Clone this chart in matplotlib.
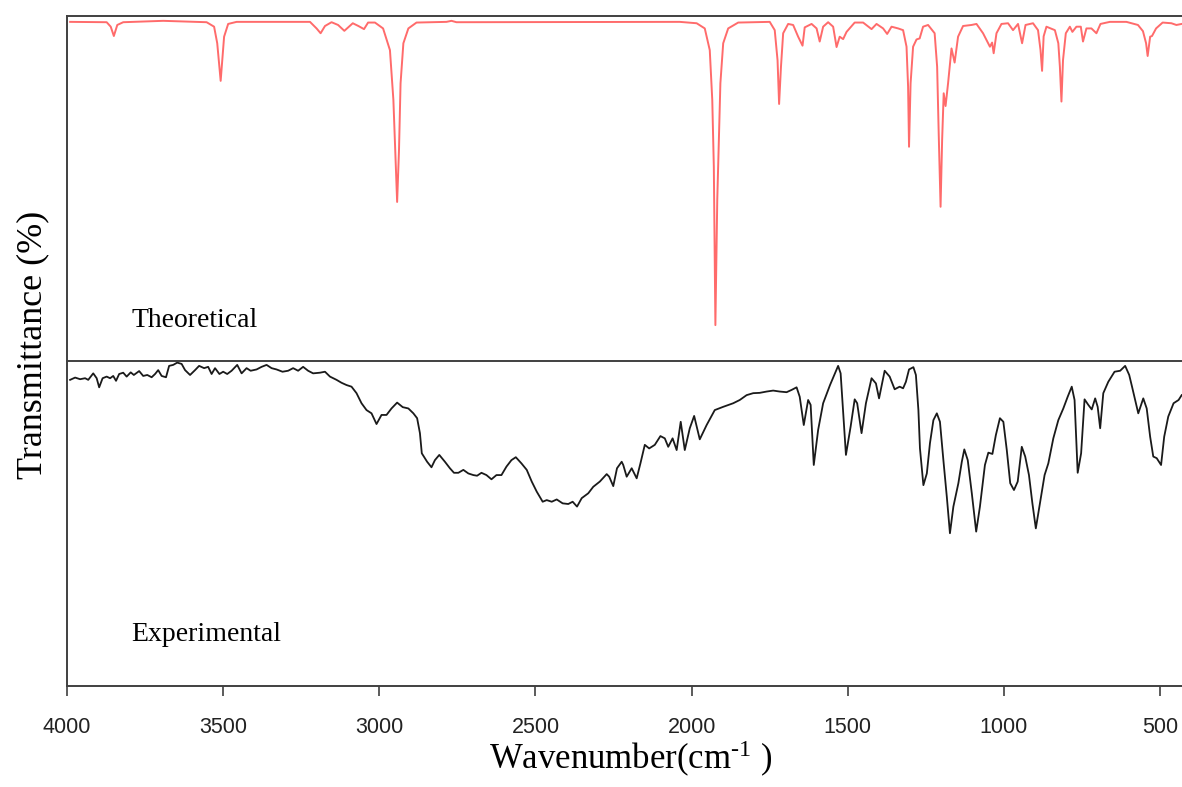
import matplotlib
matplotlib.use("Agg")
import matplotlib.pyplot as plt

plt.rcParams['mathtext.fontset'] = 'custom'
plt.rcParams['mathtext.rm'] = 'Liberation Serif'
plt.rcParams['mathtext.it'] = 'Liberation Serif:italic'

# theoretical (calculated) spectrum
theo_wn = [3990, 3873, 3860, 3850, 3839, 3820, 3692, 3553, 3529, 3519, 3512, 3508, 3503, 3497,
           3484, 3457, 3222, 3201, 3188, 3174, 3153, 3132, 3112, 3085, 3067, 3049, 3036, 3014,
           2988, 2966, 2955, 2947, 2943, 2937, 2932, 2923, 2907, 2881, 2785, 2769, 2753, 2038,
           1984, 1958, 1942, 1934, 1929, 1924, 1918, 1913, 1908, 1899, 1883, 1851, 1750, 1734,
           1725, 1720, 1714, 1707, 1691, 1675, 1659, 1645, 1638, 1616, 1600, 1590, 1579, 1563,
           1547, 1536, 1526, 1515, 1504, 1478, 1451, 1424, 1408, 1387, 1374, 1360, 1339, 1323,
           1312, 1307, 1304, 1299, 1291, 1280, 1270, 1259, 1243, 1222, 1214, 1209, 1203, 1198,
           1193, 1187, 1179, 1168, 1158, 1147, 1131, 1104, 1088, 1067, 1045, 1038, 1033, 1024,
           1008, 987, 971, 955, 942, 931, 907, 891, 883, 878, 873, 864, 837, 826, 821, 816,
           811, 802, 789, 781, 768, 754, 747, 736, 720, 704, 691, 661, 608, 571, 555, 545,
           540, 532, 526, 513, 492, 464, 448, 431]
theo_t = [98.3, 98.2, 96.9, 94.2, 97.4, 98.2, 98.6, 98.2, 96.9, 92.1, 85.3, 81.2, 87.2, 94.0,
          97.7, 98.3, 98.3, 96.4, 95.0, 97.1, 98.2, 97.4, 95.7, 97.9, 97.1, 96.2, 98.1, 98.1,
          96.4, 90.1, 75.7, 56.3, 46.1, 61.2, 80.5, 92.1, 96.4, 98.1, 98.3, 98.6, 98.2, 98.3,
          97.9, 96.4, 90.1, 75.7, 56.3, 10.4, 46.7, 64.1, 80.5, 92.1, 96.4, 98.1, 98.3, 95.9,
          87.2, 74.5, 85.3, 95.0, 97.7, 97.4, 94.0, 91.4, 96.7, 97.7, 96.4, 92.6, 96.9, 98.2,
          96.9, 91.0, 94.0, 93.3, 95.4, 98.1, 98.1, 96.2, 97.7, 96.4, 94.8, 96.9, 96.4, 95.9,
          91.1, 79.5, 62.1, 80.5, 91.1, 93.2, 93.5, 96.9, 97.4, 95.0, 85.3, 66.0, 44.7, 64.1,
          77.6, 73.9, 80.5, 90.6, 86.5, 94.0, 97.1, 97.4, 97.7, 95.0, 91.1, 92.3, 89.2, 95.0,
          97.7, 97.9, 95.9, 97.7, 92.1, 97.4, 97.9, 95.9, 90.1, 84.1, 94.1, 96.9, 95.9, 92.1, 85.3, 75.2,
          87.2, 95.0, 96.9, 95.4, 96.9, 96.9, 92.6, 96.4, 96.4, 95.0, 97.7, 98.3, 98.3, 97.4, 95.6, 92.1,
          88.4, 94.0, 94.2, 96.4, 98.1, 97.9, 97.4, 97.7]

# experimental spectrum
exp_wn = [3990, 3974, 3958, 3942, 3932, 3916, 3905, 3897, 3886, 3873, 3862, 3852, 3843, 3833,
          3820, 3809, 3796, 3786, 3769, 3756, 3743, 3729, 3718, 3708, 3697, 3683, 3673, 3660,
          3647, 3633, 3622, 3606, 3590, 3577, 3561, 3548, 3537, 3526, 3512, 3500, 3487, 3473,
          3455, 3441, 3425, 3412, 3393, 3377, 3361, 3345, 3329, 3310, 3292, 3276, 3260, 3244,
          3228, 3212, 3190, 3174, 3158, 3137, 3121, 3105,
          3089, 3073, 3057, 3041, 3025, 3009, 2993, 2977, 2961, 2943, 2925, 2907, 2891, 2879,
          2870, 2864, 2847, 2833, 2822, 2808, 2790, 2774, 2761, 2747, 2731, 2715, 2699, 2687,
          2673, 2657, 2641, 2625, 2609, 2593, 2577, 2563, 2545, 2528, 2512, 2496, 2477, 2464,
          2448, 2432, 2413, 2395, 2381, 2367, 2352, 2331, 2315, 2294, 2272, 2264, 2251, 2239,
          2224, 2219, 2208, 2192, 2176, 2164, 2150, 2136, 2118, 2100, 2086, 2075, 2061, 2048,
          2035, 2022, 2006, 1992, 1974, 1952, 1926, 1899, 1867, 1846, 1824, 1803, 1782, 1760,
          1739, 1718, 1696, 1680, 1664, 1654, 1641, 1627, 1619, 1609, 1595, 1579, 1557, 1531,
          1523, 1506, 1491, 1478, 1470, 1456, 1442, 1424, 1410, 1400, 1382, 1366, 1350, 1334,
          1323, 1314, 1304, 1290, 1282, 1274, 1269, 1258, 1247, 1237, 1226, 1215, 1205, 1194,
          1183, 1173, 1162, 1146, 1135, 1127, 1116, 1103, 1089, 1077, 1061, 1050, 1037, 1026,
          1013, 1002, 991, 980, 968, 956, 943, 932, 920, 909, 898, 885, 870, 858, 842, 826,
          810, 796, 783, 774, 764, 753, 742, 730, 719, 708, 700, 692, 682, 666, 646, 628,
          612, 599, 590, 570, 554, 543, 532, 522, 511, 497, 487, 474, 457, 441, 431]
exp_t = [94.2, 94.9, 94.4, 94.7, 94.2, 96.2, 94.7, 91.9, 94.7, 95.2, 94.7, 95.4, 93.9, 96.0,
         96.4, 95.2, 96.5, 95.7, 96.9, 95.4, 95.7, 95.0, 96.0, 97.2, 95.4, 95.0, 98.5, 98.8,
         99.5, 99.1, 97.2, 95.7, 97.2, 98.5, 97.8, 98.2, 96.0, 97.8, 96.0, 96.7, 96.0, 97.0,
         98.8, 96.2, 97.8, 97.0, 97.4, 98.2, 98.8, 97.8, 97.4, 96.7, 97.0, 97.8, 97.0, 98.2,
         97.0, 96.2, 96.4, 96.7, 95.2, 94.2, 93.3, 92.6,
         92.1, 90.1, 87.0, 84.9, 83.9, 80.6, 83.4, 83.4, 85.4, 87.2, 85.8, 85.4, 83.9, 82.4,
         77.8, 71.6, 69.0, 67.3, 69.5, 71.1, 69.0, 67.0, 65.6, 65.6, 66.5, 65.4, 64.9, 64.7,
         65.6, 64.9, 63.6, 64.9, 64.9, 67.5, 69.5, 70.4, 68.5, 66.5, 62.9, 59.8, 56.7, 57.2,
         56.7, 57.4, 56.2, 56.0, 56.7, 55.2, 57.8, 59.3, 61.3, 62.9, 65.2, 64.4, 61.5, 67.0,
         69.0, 68.0, 64.4, 67.0, 63.9, 68.5, 74.2, 73.1, 74.2, 76.9, 76.2, 73.6, 76.2, 72.6,
         81.3, 72.6, 79.3, 83.1, 75.9, 80.3, 84.9, 85.9, 87.0, 88.0, 89.5, 90.1, 90.2, 90.6,
         90.9, 90.6, 90.4, 91.1, 91.9, 89.0, 80.3, 88.0, 86.5, 68.0, 78.8, 87.0, 92.6, 98.5,
         96.2, 71.1, 79.8, 88.2, 87.0, 77.8, 87.0, 94.7, 93.1, 88.5, 97.0, 95.2, 91.3, 92.1,
         91.6, 93.6, 97.4, 98.1, 95.7, 84.9, 73.1, 61.8, 65.4, 74.7, 81.8, 83.9, 81.3, 69.5,
         58.2, 47.0, 55.2, 62.4, 69.0, 72.8, 69.5, 59.3, 47.5, 55.2, 68.0, 71.8, 71.4, 77.2,
         82.4, 81.3, 72.6, 62.4, 60.3, 62.9, 73.6, 70.6, 64.9, 56.2, 48.5, 56.2, 64.9, 68.5, 76.2, 81.8,
         85.4, 89.0, 92.1, 88.0, 65.6, 71.6, 88.2, 86.5, 85.1, 88.5, 85.9, 79.3, 90.1, 93.6, 96.7, 97.0,
         98.5, 95.7, 92.1, 83.9, 88.5, 85.4, 76.7, 70.6, 70.1, 68.0, 76.7, 82.9, 87.0, 88.0, 89.5]

fig = plt.figure(figsize=(11.82, 7.87), dpi=100)
ax1 = fig.add_axes([67 / 1182, 426 / 787, 1115 / 1182, 345 / 787])
ax2 = fig.add_axes([67 / 1182, 101 / 787, 1115 / 1182, 325 / 787], sharex=ax1)

ax1.plot(theo_wn, theo_t, color='#ff6b6b', lw=1.4, solid_joinstyle='round')
ax2.plot(exp_wn, exp_t, color='#1a1a1a', lw=1.3, solid_joinstyle='round')

ax1.set_xlim(4000, 430)
ax1.set_ylim(0, 100)
ax2.set_ylim(0, 100)

for ax in (ax1, ax2):
    ax.set_facecolor('none')
    ax.set_yticks([])
    ax.spines['right'].set_visible(False)
    for s in ax.spines.values():
        s.set_color('#404040')
        s.set_linewidth(1.4)
ax2.spines['top'].set_visible(False)
ax1.set_zorder(3)
ax1.tick_params(axis='x', which='both', bottom=False, labelbottom=False)

ax2.set_xticks([4000, 3500, 3000, 2500, 2000, 1500, 1000, 500])
ax2.tick_params(axis='x', direction='out', length=7, width=1.2, color='#404040',
                pad=15, labelsize=15.5)
for lab in ax2.get_xticklabels():
    lab.set_fontfamily('Liberation Sans')
    lab.set_color('#222222')

ax1.text(0.058, 0.099, 'Theoretical', transform=ax1.transAxes, fontsize=20,
         family='Liberation Serif', va='baseline')
ax2.text(0.058, 0.138, 'Experimental', transform=ax2.transAxes, fontsize=20,
         family='Liberation Serif', va='baseline')

fig.text(631 / 1182, 18 / 787, 'Wavenumber(cm$^{\\mathrm{\u2010}1}$ )', ha='center', va='baseline',
         fontsize=25, family='Liberation Serif')
fig.text(33 / 1182, 442 / 787, 'Transmittance (%)', rotation=90, ha='center', va='center',
         fontsize=26, family='Liberation Serif')

fig.savefig('out.png', dpi=100)
